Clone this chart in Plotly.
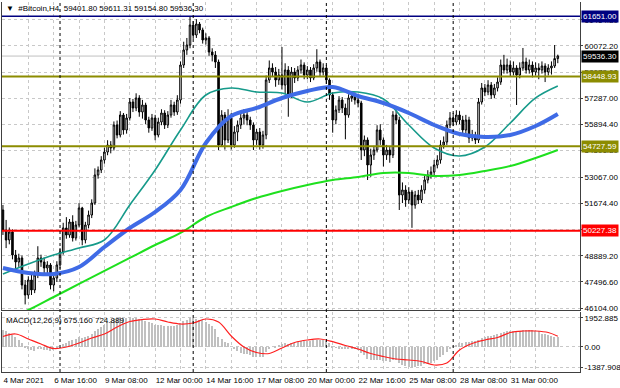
import plotly.graph_objects as go

# ---------------- data ----------------
time_labels = ["4 Mar 2021", "6 Mar 16:00", "9 Mar 08:00", "12 Mar 00:00", "14 Mar 16:00",
               "17 Mar 08:00", "20 Mar 00:00", "22 Mar 16:00", "25 Mar 08:00", "28 Mar 08:00",
               "31 Mar 00:00"]
time_label_idx = [0, 16, 32, 48, 64, 80, 96, 112, 128, 144, 160]
separator_idx = [18, 60, 102, 142]

opens = [51331,50265,49732,50158,48932,48559,48772,47333,46800,47600,
 47067,47866,48772,48559,48240,48399,47333,47707,48399,49092,
 50372,49998,50691,49839,50531,51438,49732,50531,51064,51704,
 53196,53463,53996,54422,54795,54636,55861,55328,56394,55595,
 56234,57087,56768,57301,56554,56927,56128,55702,56234,55328,
 56021,56501,55861,56394,56927,56554,57194,59059,59859,60125,
 61191,60658,61245,60925,60392,60499,59752,59592,59219,54795,
 56394,55062,56234,54795,55488,55861,56234,56394,56128,55861,
 55062,55488,54795,55328,58260,58900,58686,58260,58526,57993,
 58793,57460,58686,58367,58793,59059,58526,58793,58367,58900,
 59219,58686,58900,58260,57460,56128,56661,57194,56768,56394,
 57301,57407,57194,57034,54529,55062,53729,54262,54529,55595,
 55062,54262,54529,54262,56394,56128,52130,52397,51864,52290,
 51597,52130,51864,52397,52930,53196,53356,53729,53996,54795,
 54955,55861,56234,56021,56394,56128,55595,56128,55169,55328,
 55062,57087,57834,57620,57993,57460,57834,58153,59059,58793,
 59059,58686,58900,58526,58900,59219,58793,59059,58686,58900,
 58793,59006,58686,58900,59006,59401.8]

closes = [50265,49732,50158,48932,48559,48772,47333,46800,47600,47067,
 47866,48772,48559,48240,48399,47333,47707,48399,49092,50372,
 49998,50691,49839,50531,51438,49732,50531,51064,51704,53196,
 53463,53996,54422,54795,54636,55861,55328,56394,55595,56234,
 57087,56768,57301,56554,56927,56128,55702,56234,55328,56021,
 56501,55861,56394,56927,56554,57194,59059,59859,60125,61191,
 60658,61245,60925,60392,60499,59752,59592,59219,54795,56394,
 55062,56234,54795,55488,55861,56234,56394,56128,55861,55062,
 55488,54795,55328,58260,58900,58686,58260,58526,57993,58793,
 57460,58686,58367,58793,59059,58526,58793,58367,58900,59219,
 58686,58900,58260,57460,56128,56661,57194,56768,56394,57301,
 57407,57194,57034,54529,55062,53729,54262,54529,55595,55062,
 54262,54529,54262,56394,56128,52130,52397,51864,52290,51597,
 52130,51864,52397,52930,53196,53356,53729,53996,54795,54955,
 55861,56234,56021,56394,56128,55595,56128,55169,55328,55062,
 57087,57834,57620,57993,57460,57834,58153,59059,58793,59059,
 58686,58900,58526,58900,59219,58793,59059,58686,58900,58793,
 59006,58686,58900,59006,59401.8,59536.3]

highs = [51600,50800,50400,50300,49200,49000,48900,47600,47800,47900,
 48100,49400,48950,48800,48600,48500,47900,48600,49300,50650,
 50950,50850,51050,50750,51700,51500,50700,51300,51900,53550,
 53650,54200,54650,55050,55000,56050,56100,56600,56500,56450,
 57300,57250,57550,57450,57200,57050,56300,56450,56400,56250,
 56700,56650,56600,57200,57100,57450,59250,60300,60500,61651,
 61400,61500,61350,61050,60750,60600,59950,59800,59350,56650,
 56550,56700,56500,55800,56100,56500,56700,56550,56300,56000,
 55650,55700,55550,58500,59300,59150,58950,58850,60020,59150,
 59000,58950,58900,59000,59350,59200,59000,58950,59100,59900,
 59350,59150,59050,58350,57600,56900,57400,57350,57000,57500,
 57650,57600,57350,57150,55300,55200,54600,54750,55850,55900,
 55200,54800,54700,56600,56650,56300,52800,52650,52550,52400,
 52350,52400,52650,53150,53450,53650,54000,54250,55050,55250,
 56100,56550,56500,56650,56600,56350,56400,56300,55600,55500,
 57300,58100,58050,58250,58150,58050,58400,59350,59600,59400,
 59300,59250,59050,59200,59966,59450,59350,59250,59200,59150,
 59250,59150,59100,59250,60125,59611.31]

lows = [50000,49300,49500,48700,48100,48300,47100,46300,46600,46800,
 46900,47700,48300,47950,47900,47100,47000,47500,48200,48950,
 49800,49850,49650,49700,50400,49450,49550,50350,50900,51600,
 53000,53300,53800,54250,54350,54500,55150,55200,55350,55400,
 56100,56550,56600,56300,56200,55900,55450,55550,55050,55200,
 55850,55650,55700,56250,56350,56400,57000,58900,59600,59950,
 60450,60500,60750,60200,60150,59550,59250,58900,54529,54700,
 54550,54900,54550,54650,55000,55650,55900,55850,55600,54529,
 54800,54550,54600,55100,58100,58450,57900,58000,57750,57500,
 56300,57300,58100,58200,58600,58300,58300,58150,58250,58700,
 58450,58500,58050,57200,55450,55900,56500,56500,55100,56250,
 57100,56950,56800,53996,54200,52930,53100,54000,54400,54800,
 53650,54000,53850,54100,55900,51331,51700,51500,51650,50380,
 51400,51650,51700,52200,52750,53000,53150,53550,53800,54600,
 54800,55700,55800,55850,55900,55300,55400,54900,55000,54850,
 54900,56950,57400,57450,57250,57300,57650,58000,58600,58600,
 58450,58500,56927,58350,58750,58600,58600,58400,58500,58300,
 58600,58150,58500,58550,58900,59154.8]

# moving averages read at sample bars
ma_idx = [0, 8, 16, 24, 32, 40, 48, 56, 64, 72, 80, 88, 96, 104, 112, 120, 128, 136, 144, 152, 160, 168, 175]
ma_blue = [48240,47973,47920,48293,49359,50372,51224,52397,54902,56341,56768,57301,57674,57887,57407,57034,56501,55861,55382,55222,55328,55808,56448]
ma_teal = [47920,48453,48932,49306,49732,51597,53463,55595,57460,57834,57620,57567,57088,57567,57620,57247,55861,54636,54210,54689,55968,57301,57940]
ma_green = [45468,46001,46694,47387,48080,48773,49466,50105,50958,51491,51971,52344,52664,52930,53090,53303,53303,53143,53196,53410,53676,54103,54529]

# horizontal levels
level_top = 61651.00
level_res = 58448.93
level_sup = 54727.59
level_red = 50227.38
bid_price = 59536.30

price_ticks = [61464.80, 60072.20, 58679.60, 57287.00, 55894.40, 54501.80, 53067.00,
               51674.40, 50281.80, 48889.20, 47496.60, 46104.00]

# MACD
macd_hist = [1150,1100,950,800,650,500,300,100,-100,-200,
 -250,-150,-150,-200,-200,-250,-200,-100,0,200,
 300,400,450,550,650,600,650,750,850,1050,
 1200,1350,1500,1650,1750,1900,1950,2000,1950,1950,
 2000,1950,1950,1900,1850,1750,1650,1600,1500,1500,
 1450,1400,1400,1400,1400,1450,1600,1750,1850,1950,
 1950,1900,1850,1800,1700,1550,1400,1200,700,550,
 350,250,0,-150,-300,-400,-450,-500,-550,-650,
 -650,-700,-650,-350,-150,0,100,150,200,250,
 200,300,300,350,400,400,400,400,450,500,
 500,450,400,300,50,-50,-100,-100,-150,-100,
 -100,-150,-200,-400,-550,-800,-850,-900,-850,-850,
 -950,-950,-1000,-900,-900,-1100,-1200,-1300,-1350,-1388,
 -1350,-1300,-1250,-1150,-1100,-1050,-950,-850,-700,-550,
 -350,-150,0,150,250,300,350,350,400,400,
 500,600,650,750,750,800,850,950,1000,1050,
 1100,1100,1100,1100,1150,1150,1150,1150,1100,1100,
 900,850,800,750,700,675.16]
sig_idx = [0,4,8,12,16,20,24,28,32,36,40,44,48,52,56,60,64,68,72,76,80,84,88,92,96,100,
           104,108,112,116,120,124,128,132,136,140,144,148,152,156,160,164,168,172,175]
macd_signal = [707,875,538,202,-101,0,269,606,875,1346,1716,1851,1884,1682,1548,1615,1884,1682,740,0,
               -370,-437,-67,303,471,538,357,101,-135,-437,-639,-807,-875,-976,-1211,-1077,-202,235,
               471,639,976,1077,1077,976,724.889]
macd_ticks = [1952.885, 0.0, -1387.908]

N = len(closes)
idx = list(range(N))

FONT = "Liberation Sans"

fig = go.Figure()

fig.add_trace(go.Candlestick(
    x=idx, open=opens, high=highs, low=lows, close=closes,
    increasing=dict(line=dict(color="black", width=1), fillcolor="white"),
    decreasing=dict(line=dict(color="black", width=1), fillcolor="black"),
    whiskerwidth=0, showlegend=False, hoverinfo="skip", xaxis="x", yaxis="y"))

fig.add_trace(go.Scatter(x=ma_idx, y=ma_green, mode="lines", line=dict(color="#1ee01e", width=2, shape="spline"),
                         showlegend=False, hoverinfo="skip", xaxis="x", yaxis="y"))
fig.add_trace(go.Scatter(x=ma_idx, y=ma_teal, mode="lines", line=dict(color="#169a8a", width=1.6, shape="spline"),
                         showlegend=False, hoverinfo="skip", xaxis="x", yaxis="y"))
fig.add_trace(go.Scatter(x=ma_idx, y=ma_blue, mode="lines", line=dict(color="#3f6be6", width=4, shape="spline"),
                         showlegend=False, hoverinfo="skip", xaxis="x", yaxis="y"))

fig.add_trace(go.Bar(x=idx, y=macd_hist, marker=dict(color="#c0c0c0", line=dict(width=0)), width=0.45,
                     showlegend=False, hoverinfo="skip", xaxis="x2", yaxis="y2"))
fig.add_trace(go.Scatter(x=sig_idx, y=macd_signal, mode="lines", line=dict(color="#ff2020", width=1.2, shape="spline"),
                         showlegend=False, hoverinfo="skip", xaxis="x2", yaxis="y2"))

shapes = []
# bid line
shapes.append(dict(type="line", xref="paper", x0=0, x1=1, yref="y", y0=bid_price, y1=bid_price,
                   line=dict(color="#c0c0c0", width=1), layer="below"))
for lv, col, w in [(level_top, "#000080", 1.5), (level_res, "#8c8c00", 2), (level_sup, "#8c8c00", 2),
                   (level_red, "#ff0000", 2)]:
    shapes.append(dict(type="line", xref="paper", x0=0, x1=1, yref="y", y0=lv, y1=lv,
                       line=dict(color=col, width=w)))
for s in separator_idx:
    shapes.append(dict(type="line", xref="x", x0=s, x1=s, yref="paper", y0=0, y1=1,
                       line=dict(color="black", width=1, dash="dot")))

annotations = []
annotations.append(dict(xref="paper", yref="paper", x=0.003, y=1.0, xanchor="left", yanchor="top",
                        text="▼  #Bitcoin,H4  59401.80 59611.31 59154.80 59536.30", showarrow=False,
                        font=dict(family=FONT, size=8, color="black")))
annotations.append(dict(xref="paper", yref="y2", x=0.004, y=2250, xanchor="left", yanchor="top",
                        text="MACD(12,26,9) 675.160 724.889", showarrow=False,
                        font=dict(family=FONT, size=8, color="black")))
for val, bg in [(level_top, "#000080"), (bid_price, "#000000"), (level_res, "#8c8c00"),
                (level_sup, "#8c8c00"), (level_red, "#ff0000")]:
    annotations.append(dict(xref="paper", yref="y", x=1.0, y=val, xanchor="left", yanchor="middle",
                            xshift=1, text=f"{val:.2f}", showarrow=False, bgcolor=bg, borderpad=1,
                            font=dict(family=FONT, size=8, color="white")))

grid_idx = list(range(0, 176, 8))
grid_text = []
for g in grid_idx:
    if g in time_label_idx:
        grid_text.append(time_labels[time_label_idx.index(g)])
    else:
        grid_text.append("")

fig.update_layout(
    width=620, height=388,
    margin=dict(l=2, r=40, t=2, b=16),
    paper_bgcolor="white", plot_bgcolor="white",
    font=dict(family=FONT, size=8, color="black"),
    showlegend=False,
    bargap=0,
    shapes=shapes, annotations=annotations,
    xaxis=dict(domain=[0, 1], anchor="y", range=[-0.3, 182.0], rangeslider=dict(visible=False),
               tickvals=grid_idx, showticklabels=False, showgrid=True, gridcolor="#c8c8c8",
               griddash="3px,3px", gridwidth=1, zeroline=False, showline=True, linecolor="#404040",
               linewidth=1, ticks=""),
    yaxis=dict(domain=[0.1676, 1.0], anchor="x", side="right", range=[46001, 62417],
               tickvals=price_ticks, ticktext=[f"{v:.2f}" for v in price_ticks],
               ticks="outside", ticklen=2, tickcolor="#404040", showgrid=True, gridcolor="#c8c8c8",
               griddash="3px,3px", zeroline=False, showline=True, linecolor="#404040", mirror=True,
               ticklabelstandoff=0,
               tickfont=dict(family=FONT, size=8, color="black"), automargin=False),
    xaxis2=dict(domain=[0, 1], anchor="y2", range=[-0.3, 182.0], matches="x",
                tickvals=grid_idx, ticktext=grid_text, ticklabelposition="outside right",
                tickangle=0, automargin=False,
                showgrid=True, gridcolor="#c8c8c8", griddash="3px,3px", zeroline=False,
                showline=True, linecolor="#404040", ticks="", tickfont=dict(family=FONT, size=8, color="black")),
    yaxis2=dict(domain=[0, 0.1622], anchor="x2", side="right", range=[-1683, 2356],
                tickvals=macd_ticks, ticktext=["1952.885", "0.00", "-1387.908"],
                ticks="outside", ticklen=2, tickcolor="#404040", showgrid=True, gridcolor="#c8c8c8",
                griddash="3px,3px", zeroline=False, showline=True, linecolor="#404040", mirror=True,
                ticklabelstandoff=0,
                tickfont=dict(family=FONT, size=8, color="black"), automargin=False),
)

fig.write_html("out.html", config={"displayModeBar": False})
with open("out.html", "r", encoding="utf-8") as f:
    html = f.read()
html = html.replace("<head>", "<head><style>html,body{margin:0;padding:0;overflow:hidden;}</style>", 1)
with open("out.html", "w", encoding="utf-8") as f:
    f.write(html)
